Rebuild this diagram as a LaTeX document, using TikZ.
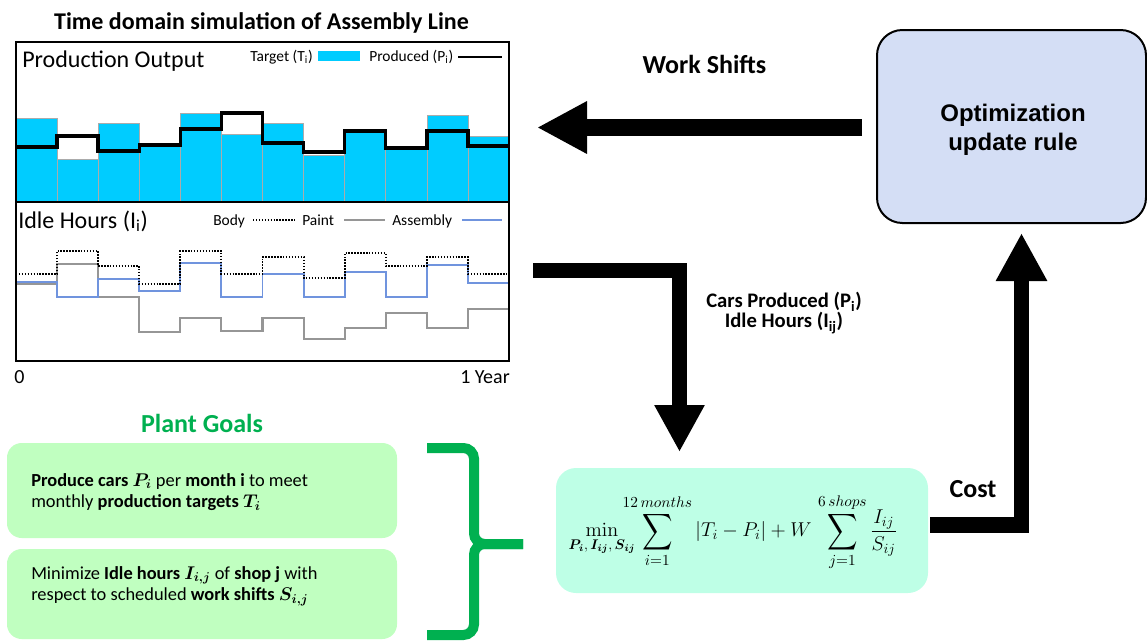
\RequirePackage{fix-cm}
\documentclass[tikz,border=0pt]{standalone}
\usepackage{amsmath,bm,graphicx}
\usepackage[no-math]{fontspec}
\setmainfont{Carlito}
\newfontfamily\arialf{Liberation Sans}
\usetikzlibrary{arrows.meta}
\definecolor{barcyan}{RGB}{0,204,255}
\definecolor{asmblue}{RGB}{112,148,222}
\definecolor{paintgray}{RGB}{150,150,150}
\definecolor{goalgreen}{RGB}{192,255,192}
\definecolor{costteal}{RGB}{190,255,230}
\definecolor{plantgreen}{RGB}{0,176,80}
\definecolor{optblue}{RGB}{212,222,245}
\newcommand{\bigsumop}{\mathop{\vcenter{\hbox{\scalebox{1.1}[1.32]{$\displaystyle\sum$}}}}\limits}
\newcommand{\limtxt}[1]{\hbox{\fontsize{11.5}{12}\selectfont$#1$}}
\newcommand{\minsub}[1]{\hbox{\fontsize{10.5}{12}\selectfont$#1$}}
\tikzset{
  lbl/.style={inner sep=0pt},
  titlefont/.style={font=\fontsize{18}{22}\selectfont\bfseries},
  chartlbl/.style={lbl,anchor=base west,font=\fontsize{18}{22}\selectfont},
  legfont/.style={lbl,anchor=base west,font=\fontsize{11.6}{13}\selectfont},
  axisfont/.style={lbl,font=\fontsize{15}{18}\selectfont},
  bigbold/.style={lbl,font=\fontsize{19.5}{23}\selectfont\bfseries},
  goalbox/.style={draw=none,fill=goalgreen,rounded corners=11pt,minimum width=390*0.75pt,inner sep=0pt},
  goaltext/.style={lbl,anchor=west,align=left,font=\fontsize{13.8}{16.2}\selectfont},
  barstyle/.style={fill=barcyan,draw=paintgray!80,line width=0.5pt},
  fatarrow/.style={line join=miter,line cap=butt},
}
\begin{document}
\begin{tikzpicture}[x=0.75pt,y=-0.75pt]
\useasboundingbox (0,0) rectangle (1147,640);
% title
\node[titlefont,lbl,anchor=base] (title) at (261.5,29) {Time domain simulation of Assembly Line};
% bars
\foreach \t [count=\i] in {118,159,123,145,113,134,123,155,131,148,115,136}{
  \pgfmathsetmacro\xa{16+41.0833*(\i-1)}
  \pgfmathsetmacro\xb{16+41.0833*\i}
  \draw[barstyle] (\xa,\t) rectangle (\xb,202);
}
% produced line
\draw[line width=2.6pt,line join=miter] (16,147) -| (57.08,136) -| (98.17,151) -| (139.25,145) -| (180.33,129) -| (221.42,113) -| (262.5,143) -| (303.58,152) -| (344.67,131) -| (385.75,148) -| (426.83,131) -| (467.92,146) -- (509,146);
% idle lines
\draw[paintgray,line width=1.6pt] (16,284) -| (57.08,264) -| (98.17,297) -| (139.25,332) -| (180.33,318) -| (221.42,331) -| (262.5,318) -| (303.58,339) -| (344.67,328) -| (385.75,313) -| (426.83,328) -| (467.92,309) -- (509,309);
\draw[asmblue,line width=1.4pt] (16,282) -| (57.08,297) -| (98.17,279) -| (139.25,291) -| (180.33,263) -| (221.42,297) -| (262.5,274) -| (303.58,297) -| (344.67,272) -| (385.75,297) -| (426.83,265) -| (467.92,283) -- (509,283);
\draw[black,line width=1.4pt,dash pattern=on 1.1pt off 1.1pt] (16,274) -| (57.08,251) -| (98.17,266) -| (139.25,284) -| (180.33,251) -| (221.42,274) -| (262.5,257) -| (303.58,278) -| (344.67,253) -| (385.75,266) -| (426.83,257) -| (467.92,274) -- (509,274);
% chart frame
\draw[line width=1.9pt] (16,42) rectangle (509,361);
\draw[line width=1.9pt] (16,202) -- (509,202);
% chart labels
\node[chartlbl] (prodlbl) at (22,67) {Production Output};
\node[legfont,anchor=base east] (tgt) at (313,61.5) {Target (T\textsubscript{i})};
\fill[barcyan] (318,51) rectangle (360,61);
\node[legfont] (prd) at (369,61.5) {Produced (P\textsubscript{i})};
\draw[line width=1.5pt] (458,56.5) -- (502,56.5);
\node[chartlbl] (idlelbl) at (18,228) {Idle Hours (I\textsubscript{i})};
\node[legfont] (body) at (213,225) {Body};
\draw[line width=1.3pt,dash pattern=on 1.1pt off 1.1pt] (253,220) -- (295,220);
\node[legfont] (paint) at (302,225) {Paint};
\draw[paintgray,line width=1.5pt] (344,220) -- (385,220);
\node[legfont] (asm) at (392,225) {Assembly};
\draw[asmblue,line width=1.3pt] (462,220) -- (502,220);
\node[axisfont,anchor=base west] (zero) at (14,383) {0};
\node[axisfont,anchor=base east] (year) at (510,383) {1 Year};
% plant goals
\node[bigbold,anchor=base,text=plantgreen] (plant) at (202,432) {Plant Goals};
\node[goalbox,minimum height=95*0.75pt] (goal1) at (202,490.5) {};
\node[goalbox,minimum height=90*0.75pt] (goal2) at (202,594) {};
\node[goaltext] (g1text) at (31,492) {\textbf{Produce cars} $\boldsymbol{P_i}$ per \textbf{month i} to meet\\monthly \textbf{production targets} $\boldsymbol{T_i}$};
\node[goaltext] (g2text) at (31,586) {Minimize \textbf{Idle hours} $\boldsymbol{I_{i,j}}$ of \textbf{shop j} with\\respect to scheduled \textbf{work shifts} $\boldsymbol{S_{i,j}}$};
% brace
\draw[plantgreen,line width=7.5pt,rounded corners=8pt] (427,448) -| (474,544) -- (523,544);
\draw[plantgreen,line width=7.5pt,rounded corners=8pt] (427,635) -| (474,544) -- (523,544);
% cost formula box
\node[fill=costteal,rounded corners=15pt,minimum width=372*0.75pt,minimum height=125*0.75pt,inner sep=0pt] (cost) at (742,530.5) {};
\node[lbl,font=\fontsize{15}{18}\selectfont] (formula) at (733,532) {$\displaystyle \min_{\minsub{\boldsymbol{P_i},\boldsymbol{I_{ij}},\boldsymbol{S_{ij}}}}\kern-12pt\bigsumop_{\limtxt{i{=}1}}^{\limtxt{12\,months}} |T_i-P_i|+W\,\bigsumop_{\limtxt{j{=}1}}^{\limtxt{6\,shops}}\frac{I_{ij}}{S_{ij}}$};
% optimization box
\node[draw=black,line width=1.5pt,fill=optblue,rounded corners=19pt,minimum width=269*0.75pt,minimum height=193*0.75pt,inner sep=0pt] (opt) at (1011.5,126.5) {};
\node[lbl,align=center,font=\arialf\fontsize{18}{22}\selectfont\bfseries] (opttext) at (1013,130) {Optimization\\update rule};
% arrows
\coordinate (ws1) at (862,127.5);
\coordinate (ws2) at (537,127.5);
\draw[fatarrow,line width=12.75pt,-{Triangle[length=37.5pt,width=36.75pt]}] (ws1) -- (ws2);
\node[bigbold,anchor=base] (wslbl) at (704.5,73) {Work Shifts};
\coordinate (cp1) at (533,270.5);
\coordinate (cp2) at (679.5,452);
\draw[fatarrow,line width=11.25pt,-{Triangle[length=35.25pt,width=35.25pt]}] (cp1) -| (cp2);
\node[lbl,align=center,font=\fontsize{15.5}{15}\selectfont\bfseries] (cplbl) at (784,313) {Cars Produced (P\textsubscript{i})\\Idle Hours (I\textsubscript{ij})};
\coordinate (c1) at (930,525);
\coordinate (c2) at (1021.5,233);
\draw[fatarrow,line width=11.5pt,-{Triangle[length=36pt,width=36pt]}] (c1) -| (c2);
\node[bigbold,anchor=base] (costlbl) at (973,497) {Cost};
\end{tikzpicture}
\end{document}
